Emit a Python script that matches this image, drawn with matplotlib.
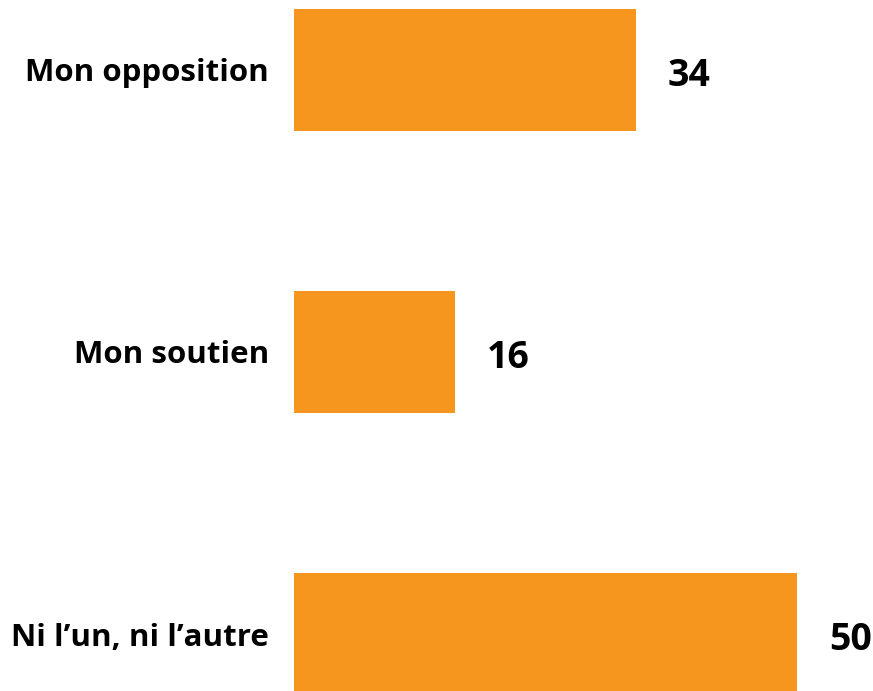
import matplotlib
matplotlib.use("Agg")
import matplotlib.pyplot as plt

categories = ["Mon opposition", "Mon soutien", "Ni l\u2019un, ni l\u2019autre"]
values = [34, 16, 50]

bar_color = "#F7961F"

fig = plt.figure(figsize=(8.73, 6.91), dpi=100)
# axes starts where the bars start, runs to the right edge
ax = fig.add_axes([294 / 873, 0, 1 - 294 / 873, 1])

pos = list(range(len(categories)))
ax.barh(pos, values, height=0.433, color=bar_color)

ax.set_xlim(0, (873 - 294) / 10.06)
ax.set_ylim(2.202, -0.248)

ax.set_yticks(pos)
ax.set_yticklabels(categories, fontsize=22.5, fontweight="bold", family="Open Sans")
ax.tick_params(axis="y", length=0, pad=18)
ax.set_xticks([])
for s in ax.spines.values():
    s.set_visible(False)

for p, v in zip(pos, values):
    ax.annotate(str(v), xy=(v, p), xytext=(23, -4), textcoords="offset points",
                ha="left", va="center", fontsize=27, fontweight="bold",
                family="Open Sans")

fig.savefig("out.png", dpi=100)
